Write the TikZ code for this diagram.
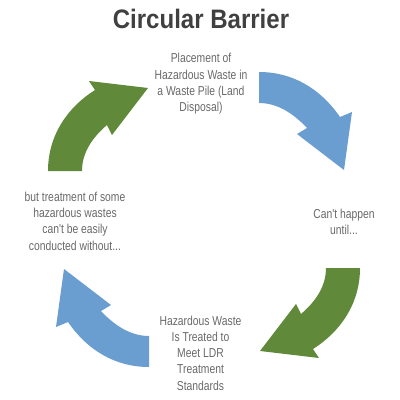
\documentclass[tikz,border=0pt]{standalone}
\usepackage{fontspec}
\setmainfont{Liberation Sans}
\newfontfamily\bodyfont[FakeStretch=0.8]{Liberation Sans}
\newfontfamily\titlefont[FakeStretch=0.9]{Liberation Sans}
\definecolor{arrowblue}{RGB}{106,157,208}
\definecolor{arrowgreen}{RGB}{96,138,58}
\definecolor{bodygray}{RGB}{105,105,105}
\definecolor{titlegray}{RGB}{64,64,64}
\tikzset{
  bodytext/.style={font=\bodyfont\fontsize{9.2}{11.6}\selectfont, text=bodygray, align=center, inner sep=0pt},
  titletext/.style={font=\titlefont\bfseries\fontsize{19}{21}\selectfont, text=titlegray, inner sep=0pt},
  bluearrow/.style={fill=arrowblue, draw=none},
  greenarrow/.style={fill=arrowgreen, draw=none}
}
\begin{document}
\begin{tikzpicture}[x=0.25mm, y=-0.25mm]
\useasboundingbox (0,0) rectangle (400,400);
\coordinate (ctr) at (204,219.5);
% title
\node[titletext] (title) at (201,19) {Circular Barrier};
% text blocks
\node[bodytext] (top) at (201,84) {Placement of\\Hazardous Waste in\\a Waste Pile (Land\\Disposal)};
\node[bodytext] (right) at (344,222) {Can't happen\\until...};
\node[bodytext] (bottom) at (200.5,353) {Hazardous Waste\\Is Treated to\\Meet LDR\\Treatment\\Standards};
\node[bodytext] (left) at (75,221) {but treatment of some\\hazardous wastes\\can't be easily\\conducted without...};
% blue top-right arrow
\path[bluearrow] (259,72) .. controls (292,72) and (320,88) .. (340,117)
  -- (352,112) -- (344,170) -- (297,134) -- (307,128)
  .. controls (293,113) and (277,103) .. (259,103) -- cycle;
% green top-left arrow
\path[greenarrow] (48,171) .. controls (48,135) and (68,107) .. (95,90)
  -- (89,81) -- (148,88) -- (112,135) -- (107,125)
  .. controls (93,137) and (82,152) .. (82,171) -- cycle;
% bottom arrows: 180 degree rotations
\begin{scope}[rotate around={180:(ctr)}]
\path[bluearrow] (259,72) .. controls (292,72) and (320,88) .. (340,117)
  -- (352,112) -- (344,170) -- (297,134) -- (307,128)
  .. controls (293,113) and (277,103) .. (259,103) -- cycle;
\path[greenarrow] (48,171) .. controls (48,135) and (68,107) .. (95,90)
  -- (89,81) -- (148,88) -- (112,135) -- (107,125)
  .. controls (93,137) and (82,152) .. (82,171) -- cycle;
\end{scope}
\end{tikzpicture}
\end{document}
